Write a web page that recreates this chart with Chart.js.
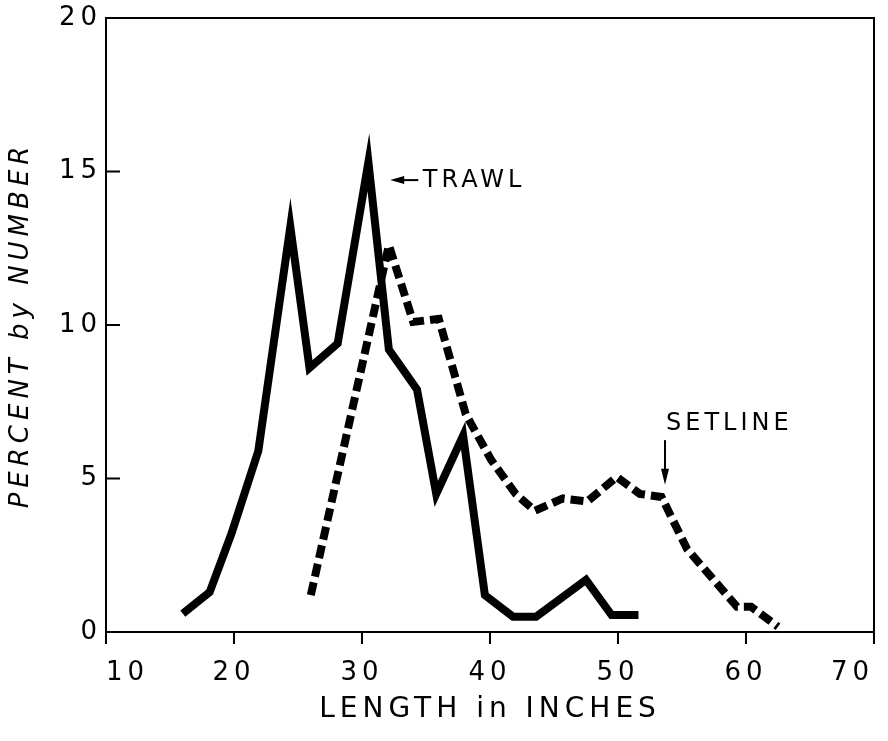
<!DOCTYPE html>
<html>
<head>
<meta charset="utf-8">
<script src="https://cdn.jsdelivr.net/npm/chart.js@4.4.1/dist/chart.umd.min.js"></script>
<style>
  html, body { margin: 0; padding: 0; background: #fff; }
  #wrap { width: 888px; height: 741px; }
</style>
</head>
<body>
<div id="wrap"><canvas id="lengthChart" width="888" height="741"></canvas></div>
<script>
// length (inches) and percent by number
const trawlLength = [16.0, 18.1, 19.8, 21.9, 24.4, 25.9, 28.1, 30.5, 32.1, 34.3, 35.8, 37.9, 39.6, 41.8, 43.6, 47.5, 49.5, 51.6];
const trawlPercent = [0.6, 1.3, 3.2, 5.9, 13.2, 8.6, 9.4, 15.3, 9.2, 7.9, 4.5, 6.4, 1.2, 0.5, 0.5, 1.7, 0.55, 0.55];

const setlineLength = [26.0, 32.1, 34.0, 36.0, 38.1, 40.1, 42.0, 43.5, 45.7, 47.6, 49.9, 51.7, 53.4, 55.4, 59.3, 60.4, 62.5];
const setlinePercent = [1.2, 12.6, 10.1, 10.2, 7.1, 5.6, 4.5, 3.95, 4.35, 4.25, 5.05, 4.5, 4.4, 2.7, 0.82, 0.82, 0.17];

const xTicks = [10, 20, 30, 40, 50, 60, 70];
const yTicks = [0, 5, 10, 15, 20];

document.addEventListener("DOMContentLoaded", function () {
  const FONT = "'DejaVu Sans', sans-serif";

  function toPoints(xs, ys) {
    return xs.map(function (x, i) {
      return { x: x, y: ys[i] };
    });
  }

  // letter spacing like the hand lettering, set before measuring and drawing
  const spacing = {
    id: "spacing",
    beforeLayout(chart) {
      chart.ctx.letterSpacing = "5px";
    },
    beforeDraw(chart) {
      chart.ctx.letterSpacing = "5px";
    },
  };

  // frame, inward y ticks and the two labels with arrows
  const extras = {
    id: "extras",
    afterDraw(chart) {
      const ctx = chart.ctx;
      const a = chart.chartArea;
      const xs = chart.scales.x;
      const ys = chart.scales.y;
      ctx.save();
      ctx.strokeStyle = "#000";
      ctx.fillStyle = "#000";
      ctx.lineWidth = 2;
      ctx.strokeRect(a.left, a.top, a.right - a.left, a.bottom - a.top);

      yTicks.forEach(function (v) {
        const py = ys.getPixelForValue(v);
        ctx.beginPath();
        ctx.moveTo(a.left, py);
        ctx.lineTo(a.left + 14, py);
        ctx.stroke();
      });

      ctx.letterSpacing = "4px";
      ctx.font = "24px " + FONT;
      ctx.textBaseline = "middle";

      // TRAWL
      const x0 = xs.getPixelForValue(32.2);
      const x1 = xs.getPixelForValue(34.4);
      const py = ys.getPixelForValue(14.72);
      ctx.beginPath();
      ctx.moveTo(x0 + 10, py);
      ctx.lineTo(x1, py);
      ctx.stroke();
      ctx.beginPath();
      ctx.moveTo(x0, py);
      ctx.lineTo(x0 + 14, py - 4);
      ctx.lineTo(x0 + 14, py + 4);
      ctx.closePath();
      ctx.fill();
      ctx.textAlign = "left";
      ctx.fillText("TRAWL", xs.getPixelForValue(34.75), py + 1);

      // SETLINE
      ctx.textAlign = "center";
      ctx.fillText("SETLINE", xs.getPixelForValue(58.7), ys.getPixelForValue(6.78));
      const ax = xs.getPixelForValue(53.67);
      const ay0 = ys.getPixelForValue(6.25);
      const ay1 = ys.getPixelForValue(4.8);
      ctx.beginPath();
      ctx.moveTo(ax, ay0);
      ctx.lineTo(ax, ay1 - 10);
      ctx.stroke();
      ctx.beginPath();
      ctx.moveTo(ax, ay1);
      ctx.lineTo(ax - 4, ay1 - 16);
      ctx.lineTo(ax + 4, ay1 - 16);
      ctx.closePath();
      ctx.fill();
      ctx.restore();
    },
  };

  const dataLine = {
    datasets: [
      {
        label: "Trawl",
        data: toPoints(trawlLength, trawlPercent),
        borderColor: "#000",
        borderWidth: 8,
        borderJoinStyle: "miter",
        pointRadius: 0,
        fill: false,
        tension: 0,
      },
      {
        label: "Setline",
        data: toPoints(setlineLength, setlinePercent),
        borderColor: "#000",
        borderWidth: 8,
        borderDash: [13, 6],
        borderJoinStyle: "miter",
        pointRadius: 0,
        fill: false,
        tension: 0,
      },
    ],
  };

  const configLine = {
    type: "line",
    data: dataLine,
    options: {
      responsive: false,
      animation: false,
      layout: {
        padding: { left: 0, top: 18, right: 14, bottom: 14 },
      },
      plugins: {
        legend: { display: false },
        tooltip: { enabled: false },
      },
      scales: {
        x: {
          type: "linear",
          min: 10,
          max: 70,
          afterBuildTicks(scale) {
            scale.ticks = xTicks.map(function (v) {
              return { value: v };
            });
          },
          afterFit(scale) {
            scale.height = 95;
            scale.paddingLeft = 0;
            scale.paddingRight = 0;
          },
          grid: {
            drawOnChartArea: false,
            tickLength: 12,
            color: "#000",
            lineWidth: 2,
          },
          border: { display: false },
          ticks: {
            color: "#000",
            font: { family: FONT, size: 26 },
            padding: 14,
            maxRotation: 0,
            align: "inner",
          },
          title: {
            display: true,
            text: "LENGTH in INCHES",
            color: "#000",
            font: { family: FONT, size: 28 },
            padding: { top: 4, bottom: 0 },
          },
        },
        y: {
          min: 0,
          max: 20,
          afterBuildTicks(scale) {
            scale.ticks = yTicks.map(function (v) {
              return { value: v };
            });
          },
          afterFit(scale) {
            scale.width = 106;
            scale.paddingTop = 0;
            scale.paddingBottom = 0;
          },
          grid: { display: false },
          border: { display: false },
          ticks: {
            color: "#000",
            font: { family: FONT, size: 26 },
            padding: -4,
          },
          title: {
            display: true,
            text: "PERCENT by NUMBER",
            color: "#000",
            font: { family: FONT, size: 26, style: "italic" },
            padding: { top: 6, bottom: 10 },
          },
        },
      },
    },
    plugins: [spacing, extras],
  };

  new Chart(document.getElementById("lengthChart"), configLine);
});
</script>
</body>
</html>
